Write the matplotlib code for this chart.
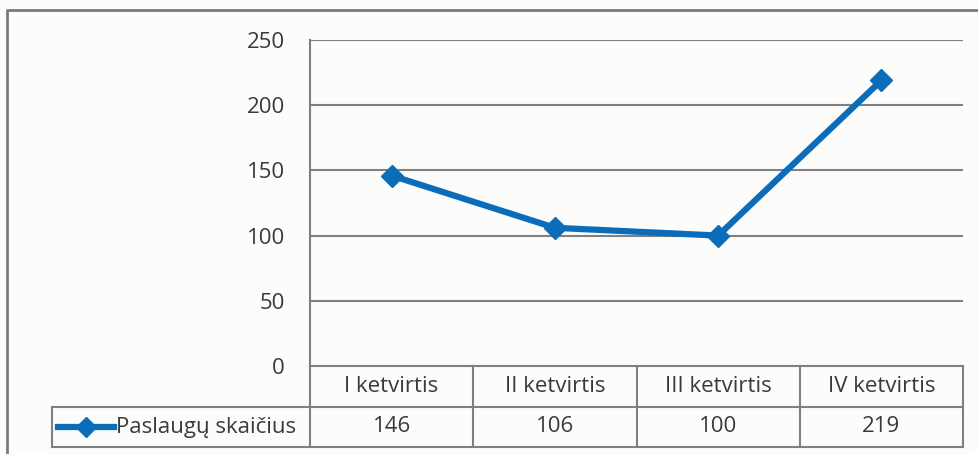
import matplotlib.pyplot as plt
from matplotlib.lines import Line2D

categories = ['I ketvirtis', 'II ketvirtis', 'III ketvirtis', 'IV ketvirtis']
values = [146, 106, 100, 219]
series_name = 'Paslaugų skaičius'
yticks = [0, 50, 100, 150, 200, 250]

W, H = 979, 454
line_color = '#0b6cba'
grid_color = '#808080'
text_color = '#3a3a3a'
fs = 16
plt.rcParams['font.family'] = ['Open Sans', 'DejaVu Sans']

fig = plt.figure(figsize=(W / 100, H / 100), dpi=100)
fig.patch.set_facecolor('#fcfcfb')

# plot area in pixels
left, right, top, bottom = 310, 963, 40, 366
ax = fig.add_axes([left / W, 1 - bottom / H, (right - left) / W, (bottom - top) / H])
ax.set_facecolor('none')

x = list(range(len(categories)))
ax.plot(x, values, color=line_color, lw=4.5, marker='D', markersize=11,
        markerfacecolor=line_color, markeredgecolor=line_color, zorder=3)

ax.set_xlim(-0.5, len(categories) - 0.5)
ax.set_ylim(0, 250)
ax.set_yticks(yticks)
ax.set_yticklabels([str(t) for t in yticks], fontsize=fs, color=text_color)
ax.tick_params(axis='y', length=0, pad=18)
ax.set_xticks([])
for t in yticks[1:]:
    ax.axhline(t, color=grid_color, lw=1.5, zorder=1)
for s in ['top', 'right', 'bottom']:
    ax.spines[s].set_visible(False)
ax.spines['left'].set_color(grid_color)
ax.spines['left'].set_linewidth(1.5)

# data table below the plot, in figure pixel coordinates
def fx(px):
    return px / W

def fy(py):
    return 1 - py / H

row_top, row_mid, row_bot = 366, 407, 447
legend_left = 52
col_edges = [left + (right - left) * i / len(categories) for i in range(len(categories) + 1)]
lk = dict(color=grid_color, lw=1.5, transform=fig.transFigure)

fig.add_artist(Line2D([fx(left), fx(right)], [fy(row_top), fy(row_top)], **lk))
fig.add_artist(Line2D([fx(legend_left), fx(right)], [fy(row_mid), fy(row_mid)], **lk))
fig.add_artist(Line2D([fx(legend_left), fx(right)], [fy(row_bot), fy(row_bot)], **lk))
fig.add_artist(Line2D([fx(legend_left), fx(legend_left)], [fy(row_mid), fy(row_bot)], **lk))
for cx in col_edges:
    fig.add_artist(Line2D([fx(cx), fx(cx)], [fy(row_top), fy(row_bot)], **lk))

for i, (cat, v) in enumerate(zip(categories, values)):
    cx = (col_edges[i] + col_edges[i + 1]) / 2
    fig.text(fx(cx), fy((row_top + row_mid) / 2), cat, ha='center', va='center',
             fontsize=fs, color=text_color)
    fig.text(fx(cx), fy((row_mid + row_bot) / 2), str(v), ha='center', va='center',
             fontsize=fs, color=text_color)

# legend key in the table
ky = fy((row_mid + row_bot) / 2)
fig.add_artist(Line2D([fx(58), fx(114)], [ky, ky], color=line_color, lw=4.5,
                      transform=fig.transFigure))
fig.add_artist(Line2D([fx(86)], [ky], color=line_color, marker='D', markersize=10,
                      transform=fig.transFigure))
fig.text(fx(116), ky, series_name, ha='left', va='center', fontsize=fs, color=text_color)

# outer chart frame
fig.add_artist(Line2D([fx(7), fx(7), fx(W)], [0, fy(10), fy(10)], color='#7a7a7a', lw=2,
                      transform=fig.transFigure))

fig.savefig('out.png', dpi=100, facecolor=fig.get_facecolor())
